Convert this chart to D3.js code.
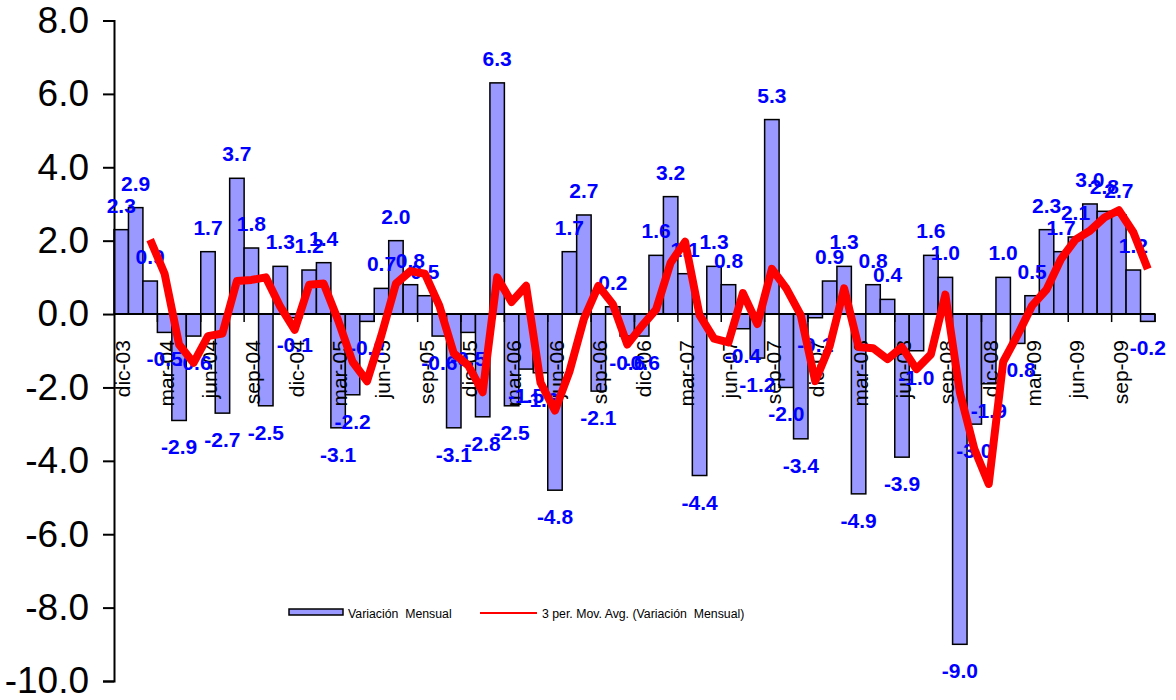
<!DOCTYPE html>
<html>
<head>
<meta charset="utf-8">
<script src="https://cdn.jsdelivr.net/npm/d3@7"></script>
<style>
  html, body { margin: 0; padding: 0; background: #ffffff; }
  svg { display: block; font-family: "Liberation Sans", Arial, sans-serif; }
</style>
</head>
<body>
<svg id="chart" width="1176" height="700"></svg>
<script>
// ---- Data ----
const categories = [
  "dic-03","ene-04","feb-04","mar-04","abr-04","may-04","jun-04","jul-04","ago-04","sep-04","oct-04","nov-04",
  "dic-04","ene-05","feb-05","mar-05","abr-05","may-05","jun-05","jul-05","ago-05","sep-05","oct-05","nov-05",
  "dic-05","ene-06","feb-06","mar-06","abr-06","may-06","jun-06","jul-06","ago-06","sep-06","oct-06","nov-06",
  "dic-06","ene-07","feb-07","mar-07","abr-07","may-07","jun-07","jul-07","ago-07","sep-07","oct-07","nov-07",
  "dic-07","ene-08","feb-08","mar-08","abr-08","may-08","jun-08","jul-08","ago-08","sep-08","oct-08","nov-08",
  "dic-08","ene-09","feb-09","mar-09","abr-09","may-09","jun-09","jul-09","ago-09","sep-09","oct-09","nov-09"
];
const variacionMensual = [
  2.3, 2.9, 0.9, -0.5, -2.9, -0.6, 1.7, -2.7, 3.7, 1.8,
  -2.5, 1.3, -0.1, 1.2, 1.4, -3.1, -2.2, -0.2, 0.7, 2.0,
  0.8, 0.5, -0.6, -3.1, -0.5, -2.8, 6.3, -2.5, -1.5, -1.6,
  -4.8, 1.7, 2.7, -2.1, 0.2, -0.6, -0.6, 1.6, 3.2, 1.1,
  -4.4, 1.3, 0.8, -0.4, -1.2, 5.3, -2.0, -3.4, -0.1, 0.9,
  1.3, -4.9, 0.8, 0.4, -3.9, -1.0, 1.6, 1.0, -9.0, -3.0,
  -1.9, 1.0, -0.8, 0.5, 2.3, 1.7, 2.1, 3.0, 2.8, 2.7,
  1.2, -0.2
];
const movAvg3 = [
  null, null, 2.03, 1.10, -0.83, -1.33, -0.60, -0.53, 0.90, 0.93,
  1.00, 0.20, -0.43, 0.80, 0.83, -0.17, -1.30, -1.83, -0.57, 0.83,
  1.17, 1.10, 0.23, -1.07, -1.40, -2.13, 1.00, 0.33, 0.77, -1.87,
  -2.63, -1.57, -0.13, 0.77, 0.27, -0.83, -0.33, 0.13, 1.40, 1.97,
  -0.03, -0.67, -0.77, 0.57, -0.27, 1.23, 0.70, -0.03, -1.83, -0.87,
  0.70, -0.90, -0.93, -1.23, -0.90, -1.50, -1.10, 0.53, -2.13, -3.67,
  -4.63, -1.30, -0.57, 0.23, 0.67, 1.50, 2.03, 2.27, 2.63, 2.83,
  2.23, 1.23
];
const yTickValues = [-10, -8, -6, -4, -2, 0, 2, 4, 6, 8];
const seriesNames = ["Variación  Mensual", "3 per. Mov. Avg. (Variación  Mensual)"];

// ---- Layout ----
const svg = d3.select("#chart");
const x = d3.scaleBand().domain(categories).range([114, 1155]).padding(0);
const y = d3.scaleLinear().domain([-10, 8]).range([681, 20.5]);
const bw = x.bandwidth();
const y0 = y(0);

// bars
svg.append("g").selectAll("rect").data(variacionMensual).join("rect")
  .attr("x", (d, i) => x(categories[i]))
  .attr("width", bw)
  .attr("y", d => Math.min(y(d), y0))
  .attr("height", d => Math.abs(y(d) - y0))
  .attr("fill", "#9999FF")
  .attr("stroke", "#000")
  .attr("stroke-width", 1.5);

// y axis
const yAxis = d3.axisLeft(y).tickValues(yTickValues).tickSize(11).tickPadding(14)
  .tickFormat(d => d.toFixed(1));
const gy = svg.append("g").attr("transform", "translate(114,0)").call(yAxis);
gy.select(".domain").attr("stroke", "#000").attr("stroke-width", 2);
gy.selectAll(".tick line").attr("stroke", "#000").attr("stroke-width", 2);
gy.selectAll(".tick text").attr("font-size", 37).attr("fill", "#000")
  .attr("font-family", "'Liberation Sans', Arial, sans-serif");

// x axis line at zero
svg.append("line").attr("x1", 114).attr("x2", 1155).attr("y1", y0).attr("y2", y0)
  .attr("stroke", "#000").attr("stroke-width", 2);
// x ticks every 3 categories (between categories)
const tickIdx = d3.range(3, categories.length + 1, 3);
svg.append("g").selectAll("line").data(tickIdx).join("line")
  .attr("x1", i => 114 + i * bw).attr("x2", i => 114 + i * bw)
  .attr("y1", y0).attr("y2", y0 + 8)
  .attr("stroke", "#000").attr("stroke-width", 1.5);

// x labels (rotated)
const labelIdx = categories.map((c, i) => i).filter(i => i % 3 === 0);
svg.append("g").selectAll("text").data(labelIdx).join("text")
  .attr("transform", i => `translate(${x(categories[i]) + bw / 2 + 9},${y0 + 26}) rotate(-90)`)
  .attr("text-anchor", "end")
  .attr("font-size", 21)
  .attr("fill", "#000")
  .text(i => categories[i]);

// data labels
svg.append("g").selectAll("text").data(variacionMensual).join("text")
  .attr("x", (d, i) => x(categories[i]) + bw / 2)
  .attr("y", d => d >= 0 ? y(d) - 17 : y(d) + 34)
  .attr("text-anchor", "middle")
  .attr("font-size", 21)
  .attr("font-weight", "bold")
  .attr("fill", "#0000FF")
  .text(d => d.toFixed(1));

// moving average line
const line = d3.line()
  .defined(d => d != null)
  .x((d, i) => x(categories[i]) + bw / 2)
  .y(d => y(d));
svg.append("path").datum(movAvg3)
  .attr("d", line)
  .attr("fill", "none")
  .attr("stroke", "#FF0000")
  .attr("stroke-width", 8)
  .attr("stroke-linejoin", "round")
  .attr("stroke-linecap", "butt");

// legend
const lg = svg.append("g");
lg.append("rect").attr("x", 289).attr("y", 609).attr("width", 54).attr("height", 6)
  .attr("fill", "#9999FF").attr("stroke", "#000").attr("stroke-width", 1.5);
lg.append("text").attr("x", 348).attr("y", 618).attr("font-size", 12.3).attr("fill", "#000")
  .style("white-space", "pre").text(seriesNames[0]);
lg.append("line").attr("x1", 480).attr("x2", 537).attr("y1", 613).attr("y2", 613)
  .attr("stroke", "#FF0000").attr("stroke-width", 2);
lg.append("text").attr("x", 542).attr("y", 618).attr("font-size", 12.3).attr("fill", "#000")
  .style("white-space", "pre").text(seriesNames[1]);
</script>
</body>
</html>
